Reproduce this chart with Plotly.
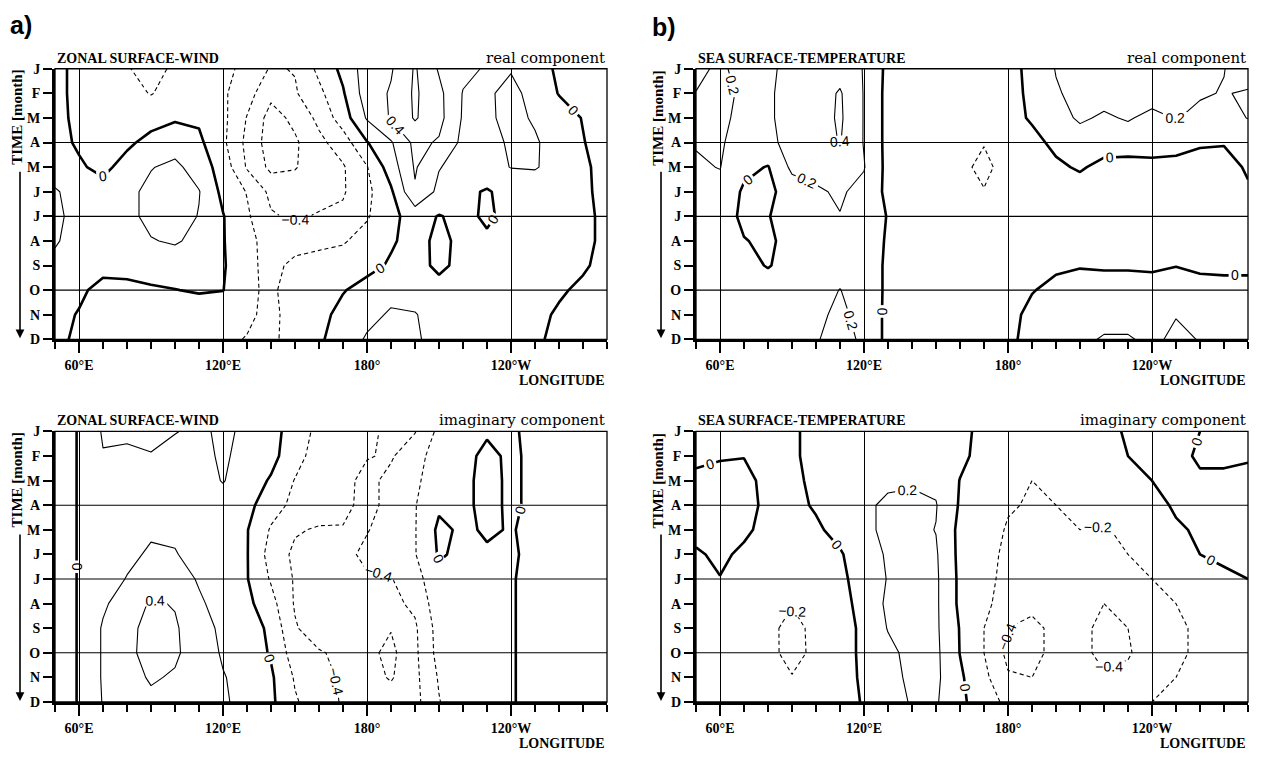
import plotly.graph_objects as go

W, H = 1262, 760

lons = list(range(50, 290, 10))
months = list(range(12))
month_labels = ["J", "F", "M", "A", "M", "J", "J", "A", "S", "O", "N", "D"]
lon_tickvals = [60, 120, 180, 240]
lon_ticktext = ["60°E", "120°E", "180°", "120°W"]

wind_real = [
    [0.05,-0.05,-0.12,-0.18,-0.3,-0.15,-0.14,-0.15,-0.25,-0.42,-0.39,-0.15,0.05,0.3,0.38,0.62,0.38,0.25,0.18,0.19,0.08,-0.03,-0.08,-0.1],
    [0.05,-0.05,-0.1,-0.13,-0.21,-0.12,-0.1,-0.17,-0.32,-0.55,-0.42,-0.25,-0.02,0.3,0.42,0.63,0.45,0.19,0.18,0.24,0.15,-0.01,-0.08,-0.1],
    [0.05,-0.04,-0.08,-0.08,-0.06,-0.02,-0.03,-0.15,-0.41,-0.68,-0.55,-0.35,-0.1,0.22,0.42,0.62,0.46,0.18,0.17,0.25,0.18,0.1,-0.01,-0.1],
    [0.05,-0.02,-0.05,-0.03,0.05,0.1,0.04,-0.16,-0.45,-0.7,-0.63,-0.45,-0.3,-0.01,0.18,0.45,0.38,0.15,0.15,0.22,0.22,0.12,0.01,-0.1],
    [0.1,0.02,-0.04,0.06,0.19,0.25,0.1,-0.08,-0.42,-0.65,-0.61,-0.52,-0.42,-0.21,0.1,0.42,0.21,0.12,0.14,0.205,0.21,0.15,0.04,-0.08],
    [0.22,0.12,0.06,0.15,0.25,0.3,0.21,-0.05,-0.21,-0.45,-0.52,-0.48,-0.42,-0.25,-0.03,0.38,0.15,0.05,-0.02,0.08,0.12,0.1,0.05,-0.08],
    [0.25,0.12,0.12,0.15,0.25,0.3,0.19,0.01,-0.17,-0.38,-0.43,-0.38,-0.36,-0.22,-0.05,0.08,-0.01,0.05,-0.03,0.06,0.1,0.1,0.05,-0.05],
    [0.22,0.12,0.12,0.14,0.19,0.22,0.15,0.01,-0.13,-0.3,-0.28,-0.25,-0.22,-0.12,-0.02,0.06,-0.04,0.04,0.03,0.06,0.1,0.1,0.05,-0.05],
    [0.15,0.1,0.05,0.05,0.07,0.1,0.08,0.02,-0.15,-0.26,-0.15,-0.12,-0.1,-0.05,0.02,0.05,-0.03,0.04,0.05,0.06,0.08,0.07,0.02,-0.05],
    [0.1,0.03,-0.05,-0.04,-0.02,-0.005,0.02,0.005,-0.17,-0.23,-0.12,-0.06,-0.01,0.06,0.15,0.12,0.05,0.05,0.05,0.06,0.05,0.02,-0.03,-0.06],
    [0.05,-0.01,-0.07,-0.09,-0.1,-0.1,-0.12,-0.15,-0.18,-0.23,-0.15,-0.05,0.05,0.15,0.22,0.21,0.12,0.06,0.05,0.05,0.04,-0.02,-0.05,-0.06],
    [0.04,-0.03,-0.08,-0.1,-0.12,-0.12,-0.15,-0.18,-0.205,-0.24,-0.12,-0.03,0.1,0.22,0.26,0.23,0.12,0.06,0.05,0.05,0.02,-0.03,-0.05,-0.06],
]

wind_imag = [
    [-0.09,0.01,0.22,0.25,0.25,0.21,0.15,0.25,0.15,0.08,-0.1,-0.25,-0.3,-0.35,-0.45,-0.41,-0.15,-0.06,-0.02,-0.02,0.04,0.05,0.05,0.05],
    [-0.09,0.01,0.19,0.15,0.19,0.12,0.14,0.23,0.13,0.06,-0.12,-0.3,-0.33,-0.39,-0.42,-0.28,-0.1,-0.05,0.04,-0.03,0.04,0.05,0.05,0.05],
    [-0.09,0.01,0.12,0.1,0.1,0.1,0.12,0.21,0.1,-0.02,-0.21,-0.3,-0.35,-0.45,-0.35,-0.24,-0.08,-0.04,0.05,-0.03,0.04,0.05,0.05,0.05],
    [-0.09,0.01,0.08,0.08,0.08,0.08,0.1,0.12,0.06,-0.12,-0.25,-0.3,-0.36,-0.45,-0.35,-0.21,-0.03,-0.04,0.05,-0.03,0.04,0.05,0.05,0.05],
    [-0.09,0.01,0.08,0.1,0.17,0.17,0.12,0.08,0.01,-0.22,-0.38,-0.42,-0.41,-0.41,-0.32,-0.21,0.04,-0.03,0.02,-0.01,0.04,0.05,0.05,0.05],
    [-0.09,0.01,0.1,0.15,0.23,0.21,0.14,0.08,0.01,-0.28,-0.44,-0.48,-0.45,-0.36,-0.32,-0.21,0.02,-0.04,-0.02,-0.02,0.04,0.05,0.05,0.05],
    [-0.09,0.01,0.1,0.21,0.33,0.3,0.18,0.1,0.01,-0.22,-0.42,-0.5,-0.48,-0.42,-0.41,-0.28,-0.05,-0.05,-0.03,-0.01,0.04,0.05,0.05,0.05],
    [-0.09,0.01,0.17,0.3,0.42,0.39,0.23,0.12,0.05,-0.13,-0.42,-0.5,-0.55,-0.5,-0.45,-0.36,-0.08,-0.05,-0.03,-0.01,0.04,0.05,0.05,0.05],
    [-0.09,0.01,0.22,0.35,0.46,0.42,0.3,0.15,0.12,-0.05,-0.38,-0.52,-0.55,-0.56,-0.59,-0.43,-0.12,-0.05,-0.03,-0.01,0.04,0.05,0.05,0.05],
    [-0.09,0.01,0.22,0.36,0.46,0.43,0.3,0.18,0.12,-0.02,-0.3,-0.38,-0.45,-0.55,-0.65,-0.44,-0.13,-0.05,-0.03,-0.01,0.04,0.05,0.05,0.05],
    [-0.09,0.01,0.22,0.33,0.42,0.38,0.28,0.21,0.14,0.03,-0.22,-0.33,-0.43,-0.52,-0.62,-0.45,-0.18,-0.05,-0.03,-0.01,0.04,0.05,0.05,0.05],
    [-0.09,0.01,0.21,0.3,0.36,0.33,0.26,0.22,0.15,0.04,-0.18,-0.3,-0.42,-0.48,-0.5,-0.46,-0.21,-0.05,-0.03,-0.01,0.04,0.05,0.05,0.05],
]

sst_real = [
    [0.6,0.25,0.1,0.15,0.28,0.3,0.32,0.19,-0.05,-0.08,-0.06,-0.05,-0.05,-0.05,0.04,0.21,0.25,0.26,0.28,0.3,0.28,0.25,0.205,0.1],
    [0.38,0.28,0.15,0.17,0.28,0.3,0.42,0.19,-0.06,-0.1,-0.08,-0.07,-0.06,-0.05,0.03,0.18,0.26,0.28,0.28,0.3,0.28,0.22,0.19,0.22],
    [0.25,0.24,0.15,0.17,0.28,0.3,0.43,0.19,-0.06,-0.1,-0.1,-0.1,-0.08,-0.06,0.02,0.12,0.23,0.17,0.22,0.14,0.21,0.15,0.14,0.205],
    [0.21,0.22,0.12,0.15,0.27,0.3,0.41,0.19,-0.06,-0.1,-0.12,-0.14,-0.19,-0.12,-0.05,0.04,0.1,0.08,0.08,0.08,0.07,0.02,0.01,0.05],
    [0.18,0.205,0.05,-0.01,0.24,0.25,0.28,0.21,-0.06,-0.1,-0.12,-0.15,-0.25,-0.12,-0.08,-0.03,0.02,-0.05,-0.06,-0.05,-0.06,-0.07,-0.06,0.02],
    [0.15,0.15,-0.03,-0.05,0.1,0.18,0.22,0.15,-0.05,-0.1,-0.12,-0.13,-0.19,-0.12,-0.1,-0.08,-0.08,-0.1,-0.1,-0.1,-0.1,-0.08,-0.06,-0.02],
    [0.12,0.12,-0.05,-0.01,0.1,0.13,0.195,0.12,-0.01,-0.08,-0.1,-0.1,-0.1,-0.1,-0.1,-0.1,-0.1,-0.1,-0.1,-0.1,-0.1,-0.1,-0.08,-0.06],
    [0.1,0.1,0.01,-0.04,0.08,0.1,0.12,0.1,-0.02,-0.08,-0.1,-0.1,-0.1,-0.1,-0.08,-0.08,-0.08,-0.08,-0.08,-0.08,-0.08,-0.08,-0.08,-0.06],
    [0.1,0.1,0.05,-0.01,0.06,0.1,0.12,0.1,-0.03,-0.08,-0.1,-0.1,-0.1,-0.1,-0.06,-0.03,-0.01,-0.02,-0.02,-0.03,-0.005,-0.04,-0.04,-0.04],
    [0.1,0.1,0.08,0.08,0.1,0.12,0.205,0.1,-0.03,-0.08,-0.1,-0.1,-0.1,-0.06,-0.01,0.05,0.07,0.08,0.08,0.08,0.1,0.08,0.06,0.06],
    [0.1,0.1,0.08,0.08,0.1,0.15,0.25,0.12,-0.04,-0.08,-0.1,-0.1,-0.08,-0.06,0.05,0.08,0.1,0.12,0.12,0.12,0.19,0.12,0.08,0.06],
    [0.1,0.1,0.08,0.08,0.1,0.18,0.3,0.15,-0.05,-0.08,-0.1,-0.1,-0.08,-0.04,0.06,0.1,0.15,0.22,0.22,0.15,0.25,0.19,0.1,0.08],
]

sst_imag = [
    [-0.03,-0.02,-0.03,-0.05,-0.02,0.04,0.08,0.1,0.12,0.12,0.12,0.05,-0.05,-0.1,-0.15,-0.12,-0.08,-0.05,0.02,0.05,0.05,0.0,-0.05,-0.03],
    [-0.03,-0.01,-0.005,-0.05,-0.02,0.04,0.08,0.12,0.15,0.15,0.14,0.04,-0.06,-0.12,-0.18,-0.15,-0.1,-0.06,0.0,0.05,0.04,-0.02,-0.05,-0.03],
    [0.03,0.04,0.05,-0.05,-0.03,0.03,0.1,0.15,0.18,0.18,0.16,-0.005,-0.08,-0.15,-0.2,-0.18,-0.12,-0.1,-0.05,0.0,0.05,0.02,0.05,0.08],
    [0.05,0.06,0.06,-0.04,-0.05,0.02,0.1,0.18,0.22,0.24,0.21,-0.02,-0.08,-0.18,-0.22,-0.2,-0.18,-0.12,-0.1,-0.05,0.02,0.05,0.08,0.1],
    [0.05,0.05,0.03,-0.05,-0.08,-0.03,0.06,0.17,0.23,0.25,0.195,-0.05,-0.1,-0.22,-0.25,-0.22,-0.2,-0.22,-0.15,-0.1,-0.02,0.02,0.05,0.08],
    [-0.02,0.03,-0.03,-0.06,-0.1,-0.08,-0.02,0.12,0.22,0.26,0.22,-0.05,-0.12,-0.25,-0.3,-0.25,-0.22,-0.25,-0.2,-0.12,-0.05,0.0,0.02,0.05],
    [-0.03,-0.005,-0.05,-0.1,-0.12,-0.1,-0.04,0.08,0.21,0.27,0.23,-0.04,-0.15,-0.25,-0.3,-0.28,-0.25,-0.3,-0.25,-0.2,-0.1,-0.05,-0.02,0.0],
    [-0.03,-0.05,-0.08,-0.12,-0.19,-0.12,-0.05,0.05,0.24,0.28,0.23,-0.04,-0.15,-0.3,-0.35,-0.3,-0.3,-0.4,-0.35,-0.25,-0.2,-0.15,-0.1,-0.08],
    [-0.03,-0.06,-0.1,-0.15,-0.26,-0.15,-0.06,0.03,0.21,0.27,0.23,-0.01,-0.2,-0.4,-0.45,-0.35,-0.35,-0.45,-0.4,-0.3,-0.22,-0.18,-0.15,-0.1],
    [-0.03,-0.06,-0.1,-0.14,-0.27,-0.15,-0.06,0.03,0.15,0.26,0.24,-0.005,-0.2,-0.45,-0.45,-0.35,-0.35,-0.45,-0.42,-0.3,-0.22,-0.18,-0.15,-0.1],
    [-0.03,-0.05,-0.08,-0.12,-0.19,-0.12,-0.05,0.02,0.12,0.25,0.24,0.03,-0.15,-0.38,-0.4,-0.3,-0.3,-0.38,-0.35,-0.25,-0.2,-0.15,-0.12,-0.1],
    [-0.03,-0.05,-0.07,-0.1,-0.12,-0.08,-0.05,0.01,0.1,0.22,0.22,0.04,-0.1,-0.25,-0.3,-0.25,-0.25,-0.3,-0.28,-0.2,-0.15,-0.12,-0.1,-0.08],
]

wind_levels = [-0.6, -0.4, -0.2, 0.0, 0.2, 0.4, 0.6]
wind_labeled = [-0.4, 0.0, 0.4]
sst_levels = [-0.4, -0.2, 0.0, 0.2, 0.4]
sst_labeled = [-0.4, -0.2, 0.0, 0.2, 0.4]

panels = [
    dict(z=wind_real, xpx=(55, 607), ypx=(63, 339), title="ZONAL SURFACE-WIND",
         comp="real component", levels=wind_levels, labeled=wind_labeled),
    dict(z=wind_imag, xpx=(55, 607), ypx=(433, 709), title="ZONAL SURFACE-WIND",
         comp="imaginary component", levels=wind_levels, labeled=wind_labeled),
    dict(z=sst_real, xpx=(696, 1248), ypx=(63, 339), title="SEA SURFACE-TEMPERATURE",
         comp="real component", levels=sst_levels, labeled=sst_labeled),
    dict(z=sst_imag, xpx=(696, 1248), ypx=(433, 709), title="SEA SURFACE-TEMPERATURE",
         comp="imaginary component", levels=sst_levels, labeled=sst_labeled),
]

SERIF = "Liberation Serif"
BLACK_SCALE = [[0, "black"], [1, "black"]]
fig = go.Figure()
shapes = []
annotations = []

for i, p in enumerate(panels, start=1):
    xa = "x" if i == 1 else f"x{i}"
    ya = "y" if i == 1 else f"y{i}"
    for lev in p["levels"]:
        if lev < 0:
            dash, width = "4px,3px", 1.1
        elif lev == 0:
            dash, width = "solid", 2.6
        else:
            dash, width = "solid", 1.1
        fig.add_trace(go.Contour(
            x=lons, y=months, z=p["z"], xaxis=xa, yaxis=ya,
            autocontour=False, colorscale=BLACK_SCALE,
            contours=dict(coloring="lines", start=lev, end=lev + 0.0001, size=1,
                          showlabels=lev in p["labeled"], labelformat="~g",
                          labelfont=dict(size=14, color="black", family="Liberation Sans")),
            line=dict(width=width, dash=dash, smoothing=0),
            showscale=False, hoverinfo="skip", showlegend=False,
        ))
    xd = [p["xpx"][0] / W, p["xpx"][1] / W]
    yd = [1 - p["ypx"][1] / H, 1 - p["ypx"][0] / H]
    key = "" if i == 1 else str(i)
    fig.update_layout(**{
        f"xaxis{key}": dict(
            domain=xd, anchor=ya, range=[50, 280], tickmode="array",
            tickvals=lon_tickvals, ticktext=[f"<b>{t}</b>" for t in lon_ticktext],
            ticks="outside", ticklen=11, tickwidth=1.5, tickcolor="black",
            showgrid=True, gridcolor="black", gridwidth=1, zeroline=False,
            showline=True, linewidth=3, linecolor="black", mirror=False,
            minor=dict(tick0=50, dtick=10, ticks="outside", ticklen=7, tickwidth=1.5,
                       tickcolor="black", showgrid=False),
            tickfont=dict(family=SERIF, size=14, color="black"), fixedrange=True,
        ),
        f"yaxis{key}": dict(
            domain=yd, anchor=xa, range=[11, 0], tickmode="array",
            tickvals=months, ticktext=[f"<b>{m}</b>" for m in month_labels],
            ticks="outside", ticklen=9, tickwidth=1.5, tickcolor="black",
            showgrid=False, zeroline=False, showline=True, linewidth=3,
            linecolor="black", mirror=False,
            tickfont=dict(family=SERIF, size=14, color="black"), fixedrange=True,
        ),
    })
    shapes.append(dict(type="rect", xref=f"{xa} domain", yref=f"{ya} domain",
                       x0=0, x1=1, y0=0, y1=1, line=dict(color="black", width=1.3)))
    for ym in (3, 6, 9):
        shapes.append(dict(type="line", xref=f"{xa} domain", yref=ya, x0=0, x1=1,
                           y0=ym, y1=ym, line=dict(color="black", width=1.1)))
    annotations.append(dict(xref=f"{xa} domain", yref=f"{ya} domain", x=0, y=1,
                            xanchor="left", yanchor="bottom", yshift=1, showarrow=False,
                            text=f"<b>{p['title']}</b>",
                            font=dict(family=SERIF, size=14, color="black")))
    annotations.append(dict(xref=f"{xa} domain", yref=f"{ya} domain", x=1, y=1,
                            xanchor="right", yanchor="bottom", yshift=0, showarrow=False,
                            text=p["comp"], font=dict(family="DejaVu Serif", size=15, color="black")))
    annotations.append(dict(xref=f"{xa} domain", yref=f"{ya} domain", x=1, y=0,
                            xanchor="right", yanchor="top", yshift=-32, showarrow=False,
                            text="<b>LONGITUDE</b>", font=dict(family=SERIF, size=14, color="black")))
    lx = (p["xpx"][0] - 38) / W
    top = p["ypx"][0]
    annotations.append(dict(xref="paper", yref="paper", x=lx, y=1 - (top + 50) / H,
                            textangle=-90, showarrow=False, xanchor="center", yanchor="middle",
                            text="<b>TIME [month]</b>", font=dict(family=SERIF, size=15, color="black")))
    annotations.append(dict(xref="paper", yref="paper", x=(p["xpx"][0] - 35) / W,
                            y=1 - (p["ypx"][1] - 1) / H, ax=0, ay=-(p["ypx"][1] - top - 108),
                            text="", showarrow=True, arrowhead=2, arrowsize=1.1, arrowwidth=1.6,
                            arrowcolor="black"))

annotations.append(dict(xref="paper", yref="paper", x=8 / W, y=1 - 2 / H, xanchor="left",
                        yanchor="top", showarrow=False, text="<b>a)</b>",
                        font=dict(family="Liberation Sans", size=25, color="black")))
annotations.append(dict(xref="paper", yref="paper", x=650 / W, y=1 - 4 / H, xanchor="left",
                        yanchor="top", showarrow=False, text="<b>b)</b>",
                        font=dict(family="Liberation Sans", size=25, color="black")))

fig.update_layout(width=W, height=H, margin=dict(l=0, r=0, t=0, b=0),
                  paper_bgcolor="white", plot_bgcolor="white",
                  shapes=shapes, annotations=annotations, showlegend=False)

fig.write_html("out.html")
